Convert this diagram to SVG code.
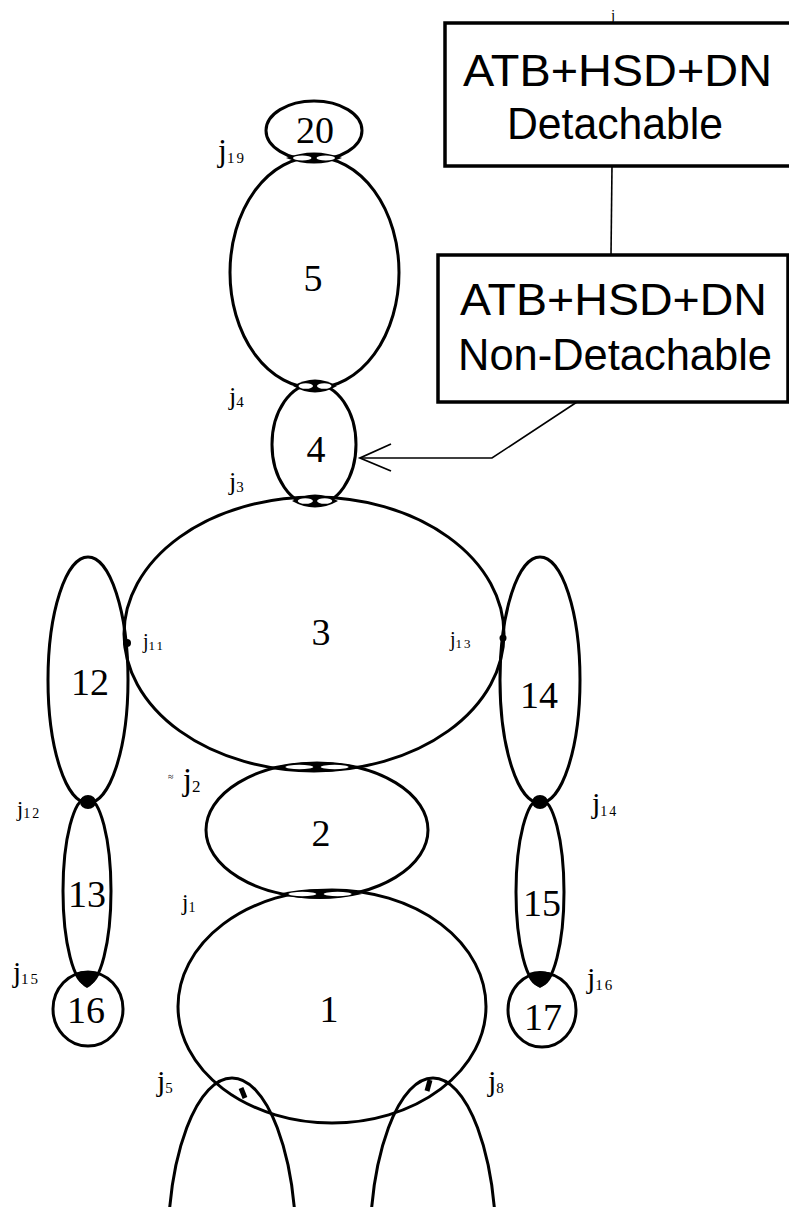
<svg xmlns="http://www.w3.org/2000/svg" width="789" height="1207" viewBox="0 0 789 1207">
  <style>
    .seg { fill: none; stroke: #000; stroke-width: 3; }
    .num { font-family: "Liberation Serif", "Times New Roman", serif; font-size: 38px; fill: #000; text-anchor: middle; }
    .jl { font-family: "Liberation Serif", "Times New Roman", serif; font-size: 26px; fill: #000; }
    .sub { font-size: 15px; letter-spacing: 2px; }
    .box { fill: #fff; stroke: #000; stroke-width: 3.5; }
    .btxt { font-family: "Liberation Sans", Arial, sans-serif; font-size: 45px; fill: #000; }
    .conn { fill: none; stroke: #000; stroke-width: 1.6; }
  </style>
  <defs>
    <!-- lens-shaped joint between two stacked segments -->
    <g id="lens">
      <path d="M-1,0 Q0,-1 1,0 Q0,1 -1,0 Z" fill="#000"/>
      <ellipse cx="-0.42" cy="0" rx="0.33" ry="0.22" fill="#fff"/>
      <ellipse cx="0.42" cy="0" rx="0.33" ry="0.22" fill="#fff"/>
    </g>
    <!-- teardrop joint at wrist -->
    <path id="drop" d="M-11,-8 Q0,-12 11,-8 Q7,4 0,7 Q-7,4 -11,-8 Z" fill="#000"/>
    <marker id="open" markerUnits="userSpaceOnUse" markerWidth="40" markerHeight="40" refX="0" refY="0" viewBox="-38 -20 40 40" orient="auto" overflow="visible">
      <path d="M-31,-13 L0,0 L-31,14" fill="none" stroke="#000" stroke-width="1.8"/>
    </marker>
  </defs>

  <!-- legend boxes -->
  <g id="box-detachable">
    <rect class="box" x="445" y="23" width="360" height="143"/>
    <text class="btxt" x="463" y="86" textLength="309" lengthAdjust="spacingAndGlyphs">ATB+HSD+DN</text>
    <text class="btxt" x="507" y="139" textLength="216" lengthAdjust="spacingAndGlyphs">Detachable</text>
    <text class="jl" x="611" y="20" style="font-size:15px">j</text>
  </g>
  <g id="box-nondetachable">
    <rect class="box" x="438" y="255" width="350" height="147"/>
    <text class="btxt" x="460" y="315" textLength="307" lengthAdjust="spacingAndGlyphs">ATB+HSD+DN</text>
    <text class="btxt" x="458" y="370" textLength="314" lengthAdjust="spacingAndGlyphs">Non-Detachable</text>
  </g>

  <!-- connectors -->
  <g id="connectors">
    <line class="conn" x1="612" y1="166" x2="611" y2="255"/>
    <polyline class="conn" points="577,402 492,458 360,458" marker-end="url(#open)"/>
  </g>

  <!-- body segments -->
  <g id="seg-20"><ellipse class="seg" cx="314" cy="130.5" rx="48" ry="29.5"/><text class="num" x="315" y="143">20</text></g>
  <g id="seg-5"><ellipse class="seg" cx="314.5" cy="272.5" rx="84.5" ry="115.5"/><text class="num" x="313" y="291">5</text></g>
  <g id="seg-4"><ellipse class="seg" cx="314" cy="444.5" rx="42" ry="60.5"/><text class="num" x="316" y="462">4</text></g>
  <g id="seg-3"><ellipse class="seg" cx="314" cy="634" rx="190" ry="137"/><text class="num" x="321" y="645">3</text></g>
  <g id="seg-12"><ellipse class="seg" cx="88" cy="680" rx="40" ry="123"/><text class="num" x="90" y="695">12</text></g>
  <g id="seg-14"><ellipse class="seg" cx="540" cy="680" rx="40" ry="123"/><text class="num" x="539" y="708">14</text></g>
  <g id="seg-2"><ellipse class="seg" cx="317" cy="830" rx="111" ry="67"/><text class="num" x="321" y="846">2</text></g>
  <g id="seg-13"><ellipse class="seg" cx="87" cy="891" rx="24" ry="93"/><text class="num" x="87" y="907">13</text></g>
  <g id="seg-15"><ellipse class="seg" cx="540" cy="892" rx="24" ry="93"/><text class="num" x="542" y="916">15</text></g>
  <g id="seg-1"><ellipse class="seg" cx="332" cy="1006.5" rx="154" ry="116.5"/><text class="num" x="329" y="1022">1</text></g>
  <g id="seg-16"><ellipse class="seg" cx="88" cy="1009" rx="35" ry="37"/><text class="num" x="86" y="1023">16</text></g>
  <g id="seg-17"><ellipse class="seg" cx="542" cy="1010" rx="34" ry="37"/><text class="num" x="543" y="1030">17</text></g>
  <g id="seg-leg-left"><ellipse class="seg" cx="232" cy="1248" rx="64" ry="170"/></g>
  <g id="seg-leg-right"><ellipse class="seg" cx="433" cy="1248" rx="63" ry="170"/></g>

  <!-- joints -->
  <g id="joint-j19"><use href="#lens" transform="translate(314,158) scale(28,11)"/><text class="jl" x="218" y="161" style="font-size:32px">j<tspan class="sub" dy="2">19</tspan></text></g>
  <g id="joint-j4"><use href="#lens" transform="translate(315,386) scale(22,13)"/><text class="jl" x="229" y="405">j<tspan class="sub" dy="2">4</tspan></text></g>
  <g id="joint-j3"><use href="#lens" transform="translate(315,501) scale(23,13)"/><text class="jl" x="229" y="490">j<tspan class="sub" dy="2">3</tspan></text></g>
  <g id="joint-j11"><circle cx="127" cy="643" r="4" fill="#000"/><text class="jl" x="143" y="648" style="font-size:20px">j<tspan class="sub" dy="2" style="font-size:13px">11</tspan></text></g>
  <g id="joint-j13"><circle cx="503" cy="638" r="3.5" fill="#000"/><text class="jl" x="450" y="646" style="font-size:20px">j<tspan class="sub" dy="2" style="font-size:13px">13</tspan></text></g>
  <g id="joint-j12"><ellipse cx="88" cy="802" rx="8" ry="7" fill="#000"/><text class="jl" x="17" y="816" style="font-size:22px">j<tspan class="sub" dy="2" style="font-size:14px">12</tspan></text></g>
  <g id="joint-j14"><ellipse cx="540" cy="802" rx="8" ry="7" fill="#000"/><text class="jl" x="592" y="813" style="font-size:30px">j<tspan class="sub" dy="3" style="font-size:14px">14</tspan></text></g>
  <g id="joint-j2"><use href="#lens" transform="translate(317,767) scale(42,10)"/><text class="jl" x="168" y="780" style="font-size:10px">≈</text><text class="jl" x="183" y="790" style="font-size:32px">j<tspan class="sub" dy="2" style="font-size:17px">2</tspan></text></g>
  <g id="joint-j1"><use href="#lens" transform="translate(320,894) scale(42,10)"/><text class="jl" x="182" y="910" style="font-size:23px">j<tspan class="sub" dy="2" style="font-size:14px">1</tspan></text></g>
  <g id="joint-j15"><use href="#drop" transform="translate(87,981)"/><text class="jl" x="13" y="982" style="font-size:29px">j<tspan class="sub" dy="2">15</tspan></text></g>
  <g id="joint-j16"><use href="#drop" transform="translate(540,981)"/><text class="jl" x="587" y="988" style="font-size:30px">j<tspan class="sub" dy="2">16</tspan></text></g>
  <g id="joint-j5"><line x1="241" y1="1088" x2="245" y2="1098" stroke="#000" stroke-width="5"/><text class="jl" x="157" y="1091" style="font-size:30px">j<tspan class="sub" dy="2">5</tspan></text></g>
  <g id="joint-j8"><line x1="430" y1="1080" x2="427" y2="1091" stroke="#000" stroke-width="5"/><text class="jl" x="488" y="1091" style="font-size:30px">j<tspan class="sub" dy="2">8</tspan></text></g>
</svg>
